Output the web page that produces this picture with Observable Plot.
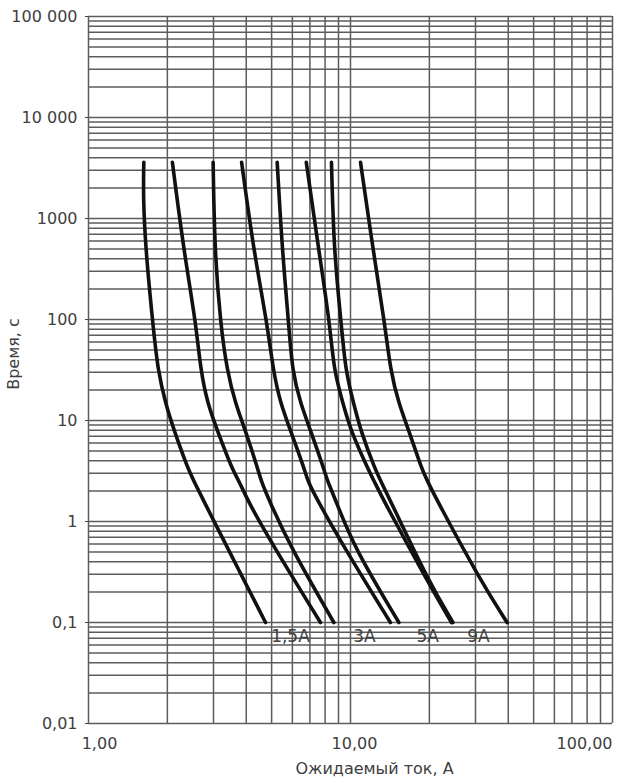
<!DOCTYPE html>
<html>
<head>
<meta charset="utf-8">
<script src="https://cdn.jsdelivr.net/npm/d3@7"></script>
<script src="https://cdn.jsdelivr.net/npm/@observablehq/plot@0.6"></script>
<style>
  html, body { margin: 0; padding: 0; background: #fff; }
</style>
</head>
<body>
<div id="chart"></div>
<script>
// Time–current curves: [current A, time s]
const curve1 = [[1.626,3600],[1.617,1600],[1.654,480],[1.76,91],[1.84,31],[1.97,14.6],[2.12,8],[2.41,3.2],[2.52,2.55],[2.75,1.6],[3.38,0.56],[4.74,0.1]];
const curve2 = [[2.09,3600],[2.31,480],[2.57,93],[2.68,31],[2.85,14.6],[3.10,8],[3.55,3.2],[3.75,2.55],[4.05,1.6],[5.10,0.56],[7.68,0.1]];
const curve3 = [[2.99,3600],[3.03,480],[3.19,91],[3.38,31],[3.64,14.6],[3.97,8],[4.45,3.2],[4.55,2.55],[4.9,1.6],[5.90,0.56],[8.64,0.1]];
const curve4 = [[3.84,3600],[4.27,480],[4.81,91],[5.07,31],[5.41,14.6],[5.90,8],[6.7,3.2],[6.85,2.55],[7.5,1.6],[9.43,0.56],[14.2,0.1]];
const curve5 = [[5.25,3600],[5.49,480],[5.81,91],[5.99,31],[6.45,14.6],[7.04,8],[7.95,3.2],[8.15,2.55],[8.8,1.6],[10.29,0.56],[15.3,0.1]];
const curve6 = [[6.78,3600],[7.57,480],[8.34,91],[8.64,31],[9.38,14.6],[10.0,8],[11.74,3.2],[12.27,2.55],[13.4,1.6],[19.6,0.26],[24.3,0.1]];
const curve7 = [[8.46,3600],[8.64,480],[9.22,91],[9.57,31],[10.29,14.6],[10.92,8],[12.46,3.2],[13.02,2.55],[14.21,1.6],[19.8,0.26],[24.6,0.1]];
const curve8 = [[10.92,3600],[12.21,480],[13.5,93],[14.21,31],[15.29,14.6],[16.69,8],[18.78,3.2],[19.62,2.55],[21.43,1.6],[31.35,0.26],[39.6,0.1]];
const curves = [curve1, curve2, curve3, curve4, curve5, curve6, curve7, curve8];

// Rating labels
const ratingLabels = ["1,5A", "3A", "5A", "9A"];
const ratingX = [5.9, 11.3, 19.7, 30.8];
const ratingY = [0.0726, 0.0726, 0.0726, 0.0726];

// Axes
const yTicks = [0.01, 0.1, 1, 10, 100, 1000, 10000, 100000];
const yTickLabels = ["0,01", "0,1", "1", "10", "100", "1000", "10 000", "100 000"];
const xTicks = [1, 10, 100];
const xTickLabels = ["1,00", "10,00", "100,00"];
const xTitle = "Ожидаемый ток, А";
const yTitle = "Время, с";

const yLabelMap = new Map(yTicks.map((t, i) => [t, yTickLabels[i]]));
const table = curves.flatMap((pts, k) => pts.map(([x, t]) => ({x, t, s: k})));
const xGrid = d3.scaleLog().domain([1, 100]).ticks();
const yGrid = d3.scaleLog().domain([0.01, 100000]).ticks();

const gridStyle = {stroke: "#5c5c5c", strokeWidth: 1.5, strokeOpacity: 1};
const textColor = "#404040";
const xLabelOffsets = [{dx: 11, textAnchor: "middle"}, {dx: 4, textAnchor: "middle"}, {dx: 0, textAnchor: "end"}];

const chart = Plot.plot({
  width: 629,
  height: 784,
  marginLeft: 88,
  marginRight: 17,
  marginTop: 16,
  marginBottom: 61,
  style: {fontFamily: "'DejaVu Sans', sans-serif", fontSize: "16px", color: textColor, background: "#fff"},
  x: {type: "log", domain: [1, 100], axis: null},
  y: {type: "log", domain: [0.01, 100000], ticks: yTicks, tickFormat: d => yLabelMap.get(d), tickSize: 3, tickPadding: 8, label: null},
  marks: [
    Plot.ruleX(xGrid, gridStyle),
    Plot.ruleY(yGrid, gridStyle),
    Plot.line(table, {x: "x", y: "t", z: "s", stroke: "#111", strokeWidth: 3.6, curve: "basis", strokeLinecap: "round"}),
    Plot.text(ratingLabels, {
      x: (d, i) => ratingX[i], y: (d, i) => ratingY[i], text: d => d,
      fontSize: 17, fill: textColor, ariaLabel: "rating-labels"
    }),
    ...xTicks.map((t, i) => Plot.text([t], {
      x: d => d, text: () => xTickLabels[i], frameAnchor: "bottom", lineAnchor: "middle", dy: 20,
      fontSize: 16, fill: textColor, ...xLabelOffsets[i]
    })),
    Plot.text([xTitle], {frameAnchor: "bottom", textAnchor: "middle", lineAnchor: "middle", dy: 45, dx: 24, fontSize: 16, fill: textColor}),
    Plot.text([yTitle], {frameAnchor: "left", textAnchor: "middle", lineAnchor: "middle", rotate: -90, dx: -75, dy: -16, fontSize: 16, fill: textColor})
  ]
});

document.getElementById("chart").append(chart);

// white boxes behind the rating labels
const svgNS = "http://www.w3.org/2000/svg";
const labelGroup = chart.querySelector('g[aria-label="rating-labels"]');
if (labelGroup) {
  labelGroup.querySelectorAll("text").forEach(t => {
    const b = t.getBBox();
    const r = document.createElementNS(svgNS, "rect");
    r.setAttribute("x", b.x - 2);
    r.setAttribute("y", b.y - 2);
    r.setAttribute("width", b.width + 4);
    r.setAttribute("height", b.height + 4);
    r.setAttribute("fill", "#fff");
    r.setAttribute("stroke", "none");
    const tr = t.getAttribute("transform");
    if (tr) r.setAttribute("transform", tr);
    t.parentNode.insertBefore(r, t);
  });
}
</script>
</body>
</html>
